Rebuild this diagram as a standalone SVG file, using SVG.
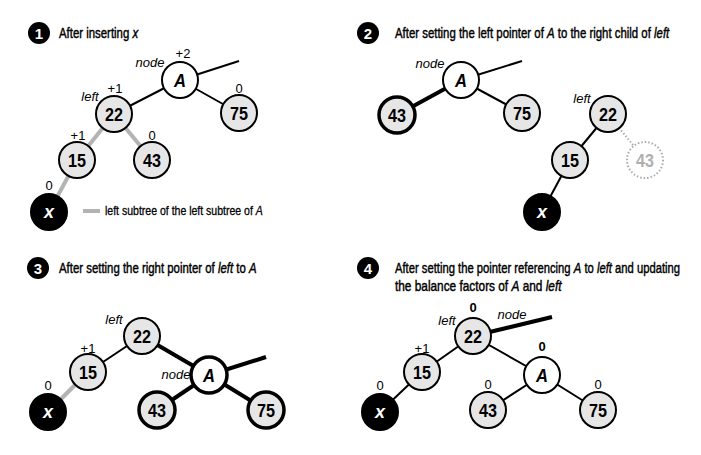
<svg xmlns="http://www.w3.org/2000/svg" width="701" height="455" viewBox="0 0 701 455">
<style>
text{font-family:"Liberation Sans",Arial,sans-serif}
.title{font-size:15px;fill:#000;stroke:#000;stroke-width:0.45}
.leg{font-size:13px;fill:#000;stroke:#000;stroke-width:0.3}
.lbl{font-size:13px;text-anchor:middle;fill:#000}
.bf{font-weight:bold}
.it{font-style:italic}
.num{font-size:18px;font-weight:bold;text-anchor:middle;fill:#000}
.badge circle{fill:#000}
.badge text{font-size:15px;font-weight:bold;fill:#fff;text-anchor:middle}
.g circle{fill:#e6e6e6;stroke:#000;stroke-width:2}
.g.w circle{fill:#fff}
.g.k circle{fill:#000}
.g.k text{fill:#fff;font-style:italic}
.g.th circle{stroke-width:3.5}
.g.d circle{fill:#fff;stroke:#aaa;stroke-dasharray:1.5 2;stroke-width:2}
.g.d text{fill:#b0b0b0}
.e{stroke:#000;stroke-width:2;fill:none}
.e.t{stroke-width:4}
.e.gr{stroke:#b3b3b3;stroke-width:4}
.e.dt{stroke:#aaa;stroke-width:2;stroke-dasharray:1.5 2}
</style>

<!-- badges -->
<g id="badge1" class="badge"><circle cx="39" cy="33" r="11"/><text x="39" y="38.5">1</text></g>
<g id="badge2" class="badge"><circle cx="368" cy="33" r="11"/><text x="368" y="38.5">2</text></g>
<g id="badge3" class="badge"><circle cx="38" cy="268" r="11"/><text x="38" y="273.5">3</text></g>
<g id="badge4" class="badge"><circle cx="368" cy="268" r="11"/><text x="368" y="273.5">4</text></g>

<!-- titles -->
<text id="title1" class="title" transform="translate(59,38) scale(0.76,1)">After inserting <tspan class="it">x</tspan></text>
<text id="title2" class="title" transform="translate(395,38) scale(0.76,1)">After setting the left pointer of <tspan class="it">A</tspan> to the right child of <tspan class="it">left</tspan></text>
<text id="title3" class="title" transform="translate(59,273) scale(0.76,1)">After setting the right pointer of <tspan class="it">left</tspan> to <tspan class="it">A</tspan></text>
<text id="title4a" class="title" transform="translate(395,273) scale(0.75,1)">After setting the pointer referencing <tspan class="it">A</tspan> to <tspan class="it">left</tspan> and updating</text>
<text id="title4b" class="title" transform="translate(395,291) scale(0.79,1)">the balance factors of <tspan class="it">A</tspan> and <tspan class="it">left</tspan></text>

<!-- connectors -->
<g id="connectors">
  <!-- panel 1 -->
  <line class="e" x1="180" y1="80" x2="239" y2="61"/>
  <line class="e" x1="180" y1="80" x2="114" y2="114"/>
  <line class="e" x1="180" y1="80" x2="239" y2="113"/>
  <line class="e gr" x1="114" y1="114" x2="77" y2="160"/>
  <line class="e gr" x1="114" y1="114" x2="152" y2="160"/>
  <line class="e gr" x1="77" y1="160" x2="49" y2="212"/>
  <line class="e gr" x1="83" y1="211" x2="100" y2="211"/>
  <!-- panel 2 -->
  <line class="e" x1="461" y1="80" x2="522" y2="61"/>
  <line class="e t" x1="461" y1="80" x2="397" y2="115"/>
  <line class="e" x1="461" y1="80" x2="522" y2="113"/>
  <line class="e" x1="608" y1="114" x2="570" y2="160"/>
  <line class="e" x1="570" y1="160" x2="542" y2="212"/>
  <line class="e dt" x1="608" y1="114" x2="645" y2="160"/>
  <!-- panel 3 -->
  <line class="e" x1="142" y1="336" x2="88" y2="372"/>
  <line class="e gr" x1="88" y1="372" x2="48" y2="412"/>
  <line class="e t" x1="142" y1="336" x2="209" y2="375"/>
  <line class="e t" x1="209" y1="375" x2="266" y2="357"/>
  <line class="e t" x1="209" y1="375" x2="157" y2="410"/>
  <line class="e t" x1="209" y1="375" x2="266" y2="410"/>
  <!-- panel 4 -->
  <line class="e t" x1="473" y1="336" x2="552" y2="317"/>
  <line class="e" x1="473" y1="336" x2="422" y2="372"/>
  <line class="e" x1="422" y1="372" x2="380" y2="412"/>
  <line class="e" x1="473" y1="336" x2="542" y2="375"/>
  <line class="e" x1="542" y1="375" x2="488" y2="410"/>
  <line class="e" x1="542" y1="375" x2="598" y2="410"/>
</g>

<!-- panel 1 nodes -->
<g id="p1-A" class="g w"><circle cx="180" cy="80" r="18"/><text class="num it" x="180" y="86.5" textLength="12" lengthAdjust="spacingAndGlyphs">A</text></g>
<g id="p1-22" class="g"><circle cx="114" cy="114" r="18"/><text class="num" x="114" y="120.5" textLength="18" lengthAdjust="spacingAndGlyphs">22</text></g>
<g id="p1-75" class="g"><circle cx="239" cy="113" r="18"/><text class="num" x="239" y="119.5" textLength="18" lengthAdjust="spacingAndGlyphs">75</text></g>
<g id="p1-15" class="g"><circle cx="77" cy="160" r="18"/><text class="num" x="77" y="166.5" textLength="18" lengthAdjust="spacingAndGlyphs">15</text></g>
<g id="p1-43" class="g"><circle cx="152" cy="160" r="18"/><text class="num" x="152" y="166.5" textLength="18" lengthAdjust="spacingAndGlyphs">43</text></g>
<g id="p1-x" class="g k"><circle cx="49" cy="212" r="18"/><text class="num" x="49" y="217.5" textLength="10" lengthAdjust="spacingAndGlyphs">x</text></g>
<g id="p1-labels">
  <text class="lbl" x="183" y="58">+2</text>
  <text class="lbl it" x="150" y="67">node</text>
  <text class="lbl it" x="90" y="101">left</text>
  <text class="lbl" x="115" y="93">+1</text>
  <text class="lbl" x="239" y="93">0</text>
  <text class="lbl" x="78" y="140">+1</text>
  <text class="lbl" x="152" y="140">0</text>
  <text class="lbl" x="49" y="190">0</text>
</g>
<text id="legend" class="leg" transform="translate(105,215) scale(0.81,1)">left subtree of the left subtree of <tspan class="it">A</tspan></text>

<!-- panel 2 nodes -->
<g id="p2-A" class="g w"><circle cx="461" cy="80" r="18"/><text class="num it" x="461" y="86.5" textLength="12" lengthAdjust="spacingAndGlyphs">A</text></g>
<g id="p2-43" class="g th"><circle cx="397" cy="115" r="18"/><text class="num" x="397" y="121.5" textLength="18" lengthAdjust="spacingAndGlyphs">43</text></g>
<g id="p2-75" class="g"><circle cx="522" cy="113" r="18"/><text class="num" x="522" y="119.5" textLength="18" lengthAdjust="spacingAndGlyphs">75</text></g>
<g id="p2-22" class="g"><circle cx="608" cy="114" r="18"/><text class="num" x="608" y="120.5" textLength="18" lengthAdjust="spacingAndGlyphs">22</text></g>
<g id="p2-15" class="g"><circle cx="570" cy="160" r="18"/><text class="num" x="570" y="166.5" textLength="18" lengthAdjust="spacingAndGlyphs">15</text></g>
<g id="p2-43ghost" class="g d"><circle cx="645" cy="160" r="18"/><text class="num" x="645" y="166.5" textLength="18" lengthAdjust="spacingAndGlyphs">43</text></g>
<g id="p2-x" class="g k"><circle cx="542" cy="212" r="18"/><text class="num" x="542" y="217.5" textLength="10" lengthAdjust="spacingAndGlyphs">x</text></g>
<g id="p2-labels">
  <text class="lbl it" x="430" y="68">node</text>
  <text class="lbl it" x="582" y="103">left</text>
</g>

<!-- panel 3 nodes -->
<g id="p3-22" class="g"><circle cx="142" cy="336" r="18"/><text class="num" x="142" y="342.5" textLength="18" lengthAdjust="spacingAndGlyphs">22</text></g>
<g id="p3-15" class="g"><circle cx="88" cy="372" r="18"/><text class="num" x="88" y="378.5" textLength="18" lengthAdjust="spacingAndGlyphs">15</text></g>
<g id="p3-x" class="g k"><circle cx="48" cy="412" r="18"/><text class="num" x="48" y="417.5" textLength="10" lengthAdjust="spacingAndGlyphs">x</text></g>
<g id="p3-A" class="g w th"><circle cx="209" cy="375" r="18"/><text class="num it" x="209" y="381.5" textLength="12" lengthAdjust="spacingAndGlyphs">A</text></g>
<g id="p3-43" class="g th"><circle cx="157" cy="410" r="18"/><text class="num" x="157" y="416.5" textLength="18" lengthAdjust="spacingAndGlyphs">43</text></g>
<g id="p3-75" class="g th"><circle cx="266" cy="410" r="18"/><text class="num" x="266" y="416.5" textLength="18" lengthAdjust="spacingAndGlyphs">75</text></g>
<g id="p3-labels">
  <text class="lbl it" x="114" y="324">left</text>
  <text class="lbl" x="88" y="353">+1</text>
  <text class="lbl" x="48" y="390">0</text>
  <text class="lbl it" x="176" y="379">node</text>
</g>

<!-- panel 4 nodes -->
<g id="p4-22" class="g"><circle cx="473" cy="336" r="18"/><text class="num" x="473" y="342.5" textLength="18" lengthAdjust="spacingAndGlyphs">22</text></g>
<g id="p4-15" class="g"><circle cx="422" cy="372" r="18"/><text class="num" x="422" y="378.5" textLength="18" lengthAdjust="spacingAndGlyphs">15</text></g>
<g id="p4-x" class="g k"><circle cx="380" cy="412" r="18"/><text class="num" x="380" y="417.5" textLength="10" lengthAdjust="spacingAndGlyphs">x</text></g>
<g id="p4-A" class="g w"><circle cx="542" cy="375" r="18"/><text class="num it" x="542" y="381.5" textLength="12" lengthAdjust="spacingAndGlyphs">A</text></g>
<g id="p4-43" class="g"><circle cx="488" cy="410" r="18"/><text class="num" x="488" y="416.5" textLength="18" lengthAdjust="spacingAndGlyphs">43</text></g>
<g id="p4-75" class="g"><circle cx="598" cy="410" r="18"/><text class="num" x="598" y="416.5" textLength="18" lengthAdjust="spacingAndGlyphs">75</text></g>
<g id="p4-labels">
  <text class="lbl bf" x="473" y="312">0</text>
  <text class="lbl it" x="447" y="325">left</text>
  <text class="lbl it" x="512" y="319">node</text>
  <text class="lbl" x="422" y="353">+1</text>
  <text class="lbl" x="380" y="390">0</text>
  <text class="lbl bf" x="542" y="351">0</text>
  <text class="lbl" x="488" y="389">0</text>
  <text class="lbl" x="598" y="389">0</text>
</g>
</svg>
